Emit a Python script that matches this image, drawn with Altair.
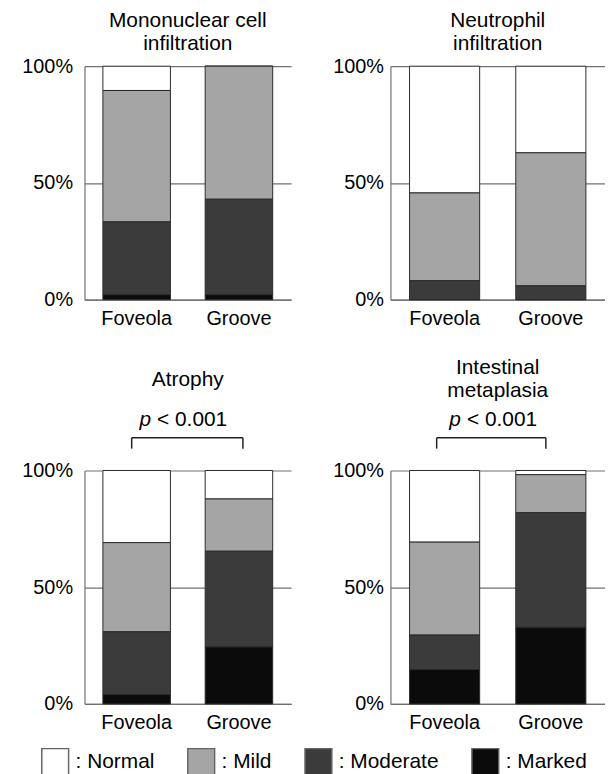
import altair as alt
import pandas as pd

FONT = "Liberation Sans"
GRID = "#707070"

sites = ["Foveola", "Groove"]
grades = ["Normal", "Mild", "Moderate", "Marked"]
grade_colors = ["#ffffff", "#a5a5a5", "#3b3b3b", "#0b0b0b"]
stack_rank = [3, 2, 1, 0]  # Marked at the bottom of each bar
y_ticks = [0, 50, 100]

# values in percent, order: Normal, Mild, Moderate, Marked
mono_foveola = [10.4, 56.3, 31.2, 2.1]
mono_groove = [0.0, 57.0, 40.9, 2.1]
neut_foveola = [54.3, 37.6, 8.1, 0.0]
neut_groove = [37.1, 57.0, 5.9, 0.0]
atro_foveola = [30.9, 38.2, 26.9, 4.0]
atro_groove = [12.2, 22.4, 41.0, 24.4]
im_foveola = [30.7, 39.8, 14.8, 14.7]
im_groove = [1.8, 16.3, 49.1, 32.8]

panel_titles = [
    ["Mononuclear cell", "infiltration"],
    ["Neutrophil", "infiltration"],
    ["Atrophy"],
    ["Intestinal", "metaplasia"],
]
p_symbol = "p"
p_values = [None, None, "< 0.001", "< 0.001"]

legend = alt.Legend(
    title=None, orient="none", legendX=-44, legendY=686,
    direction="horizontal", columns=4, symbolType="square", symbolSize=729,
    symbolStrokeColor="#666666", symbolStrokeWidth=1.5, symbolOpacity=1,
    labelFontSize=21, labelFont=FONT, labelColor="black",
    labelExpr="': ' + datum.label", labelOffset=6, columnPadding=30,
)


def panel(idx, fov, gro, width, label_pad, title_offset, br_left=0, br_right=0):
    rows = []
    for s, vals in zip(sites, [fov, gro]):
        for g, v, r in zip(grades, vals, stack_rank):
            rows.append({"site": s, "grade": g, "value": v, "rank": r})
    df = pd.DataFrame(rows)
    xscale = alt.Scale(domain=sites, paddingInner=0.34, paddingOuter=0.18)
    bars = alt.Chart(df).mark_bar(stroke="#2a2a2a", strokeWidth=1).encode(
        x=alt.X("site:N", scale=xscale, sort=sites,
                axis=alt.Axis(title=None, labelAngle=0, ticks=False, domainColor=GRID,
                              domainWidth=1.2, labelPadding=9, labelFontSize=20,
                              labelFont=FONT, labelColor="black")),
        y=alt.Y("value:Q", stack="zero", scale=alt.Scale(domain=[0, 100], nice=False),
                axis=alt.Axis(title=None, values=y_ticks, grid=True, ticks=False,
                              labelExpr="datum.value + '%'", labelPadding=label_pad,
                              domainColor=GRID, domainWidth=1.2, gridColor=GRID,
                              gridWidth=1.2, labelFontSize=20, labelFont=FONT,
                              labelColor="black")),
        fill=alt.Fill("grade:N", scale=alt.Scale(domain=grades, range=grade_colors),
                      legend=legend),
        order=alt.Order("rank:Q", sort="ascending"),
    )
    layers = [bars]
    if p_values[idx]:
        bdf = pd.DataFrame({"site": [sites[0]], "site2": [sites[1]]})
        hline = alt.Chart(bdf).mark_rule(color="#222222", strokeWidth=1.5,
                                         xOffset=br_left, x2Offset=br_right).encode(
            x=alt.X("site:N", sort=sites), x2="site2:N", y=alt.value(-33))
        ldf = pd.DataFrame({"site": [sites[0]]})
        rdf = pd.DataFrame({"site": [sites[1]]})
        tick_l = alt.Chart(ldf).mark_rule(color="#222222", strokeWidth=1.5,
                                          xOffset=br_left).encode(
            x=alt.X("site:N", sort=sites), y=alt.value(-33), y2=alt.value(-22))
        tick_r = alt.Chart(rdf).mark_rule(color="#222222", strokeWidth=1.5,
                                          xOffset=br_right).encode(
            x=alt.X("site:N", sort=sites), y=alt.value(-33), y2=alt.value(-22))
        pdf = pd.DataFrame({"p": [p_symbol], "rest": [p_values[idx]]})
        px = width / 2 - 37
        ptxt = alt.Chart(pdf).mark_text(font=FONT, fontSize=21, fontStyle="italic",
                                        align="right", baseline="alphabetic").encode(
            text="p:N", x=alt.value(px), y=alt.value(-45))
        rtxt = alt.Chart(pdf).mark_text(font=FONT, fontSize=21, align="left",
                                        baseline="alphabetic", dx=6).encode(
            text="rest:N", x=alt.value(px), y=alt.value(-45))
        layers += [hline, tick_l, tick_r, ptxt, rtxt]
    return alt.layer(*layers).properties(
        width=width, height=235,
        title=alt.TitleParams(text=panel_titles[idx], fontSize=21, font=FONT,
                              fontWeight="normal", color="black", frame="group",
                              anchor="middle", baseline="alphabetic",
                              offset=title_offset, lineHeight=23),
    )


p1 = panel(0, mono_foveola, mono_groove, 208, 12, -15)
p2 = panel(1, neut_foveola, neut_groove, 216, 7, -15)
p3 = panel(2, atro_foveola, atro_groove, 208, 12, 2, -5, 4)
p4 = panel(3, im_foveola, im_groove, 216, 7, -9, -8, -5)

chart = alt.concat(
    p1, p2, p3, p4, columns=2, bounds="flush",
    spacing={"row": 172, "column": 100},
).properties(
    padding={"left": 13, "top": 0, "right": 0, "bottom": 0}
).configure_view(stroke=None)

chart.save("out.html", embed_options={"renderer": "svg", "actions": False})
